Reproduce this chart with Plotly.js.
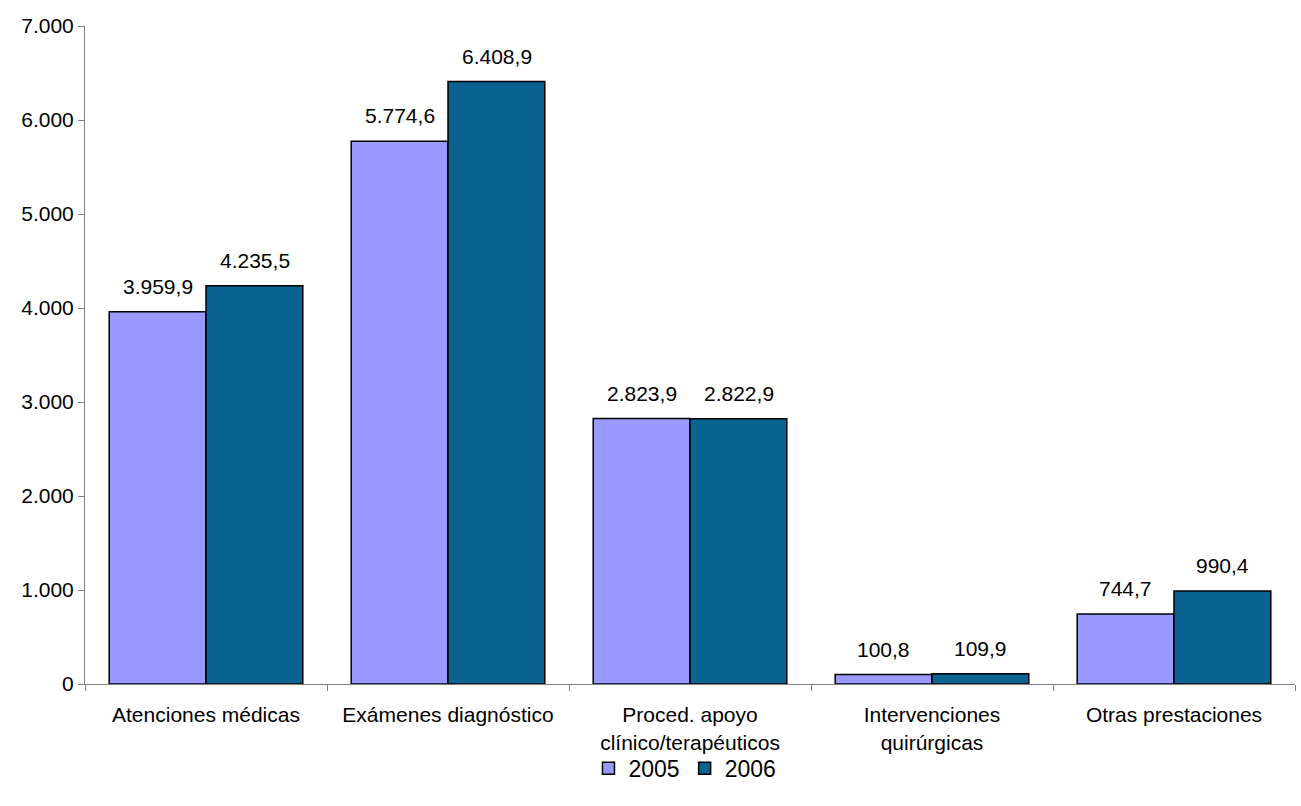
<!DOCTYPE html>
<html>
<head>
<meta charset="utf-8">
<script src="https://cdn.plot.ly/plotly-3.0.1.min.js"></script>
<style>html,body{margin:0;padding:0;background:#fff;overflow:hidden}#chart{width:1301px;height:806px}</style>
</head>
<body>
<div id="chart"></div>
<script>
const categories = ["Atenciones médicas", "Exámenes diagnóstico", "Proced. apoyo<br>clínico/terapéuticos", "Intervenciones<br>quirúrgicas", "Otras prestaciones"];
const values2005 = [3959.9, 5774.6, 2823.9, 100.8, 744.7];
const values2006 = [4235.5, 6408.9, 2822.9, 109.9, 990.4];
const labels2005 = ["3.959,9", "5.774,6", "2.823,9", "100,8", "744,7"];
const labels2006 = ["4.235,5", "6.408,9", "2.822,9", "109,9", "990,4"];
const tickVals = [0, 1000, 2000, 3000, 4000, 5000, 6000, 7000];
const tickText = ["0", "1.000", "2.000", "3.000", "4.000", "5.000", "6.000", "7.000"];
const titleText = "(prestaciones en miles)";

const font = "Liberation Sans, Arial, sans-serif";
const traces = [
  {type: "bar", name: "2005", x: categories, y: values2005,
   marker: {color: "#9999FF", line: {color: "#000", width: 1.5}}},
  {type: "bar", name: "2006", x: categories, y: values2006,
   marker: {color: "#0B6391", line: {color: "#000", width: 1.5}}}
];
const annotations = [];
categories.forEach((c, i) => {
  annotations.push({x: c, y: values2005[i], text: labels2005[i], xref: "x", yref: "y",
    showarrow: false, yanchor: "bottom", xshift: -48.5, yshift: 12, font: {size: 21, color: "#000", family: font}});
  annotations.push({x: c, y: values2006[i], text: labels2006[i], xref: "x", yref: "y",
    showarrow: false, yanchor: "bottom", xshift: 48.5, yshift: 12, font: {size: 21, color: "#000", family: font}});
});
annotations.push({x: 0.473, y: 1.036, xref: "paper", yref: "paper", text: "<b>" + titleText + "</b>",
  showarrow: false, yanchor: "bottom", font: {size: 23, color: "#000", family: font}});

const layout = {
  width: 1301, height: 806,
  margin: {l: 85, r: 6, t: 26, b: 122, autoexpand: false},
  paper_bgcolor: "#fff", plot_bgcolor: "#fff",
  font: {family: font, size: 21, color: "#000"},
  barmode: "group", bargap: 0.2, bargroupgap: 0,
  showlegend: true,
  legend: {orientation: "h", x: 0.5265, xanchor: "center", xref: "container", yref: "container", y: 0.02, yanchor: "bottom",
    bgcolor: "rgba(0,0,0,0)", font: {size: 23, family: font}, itemwidth: 30},
  xaxis: {showline: true, linecolor: "#808080", linewidth: 1, ticks: "outside", ticklen: 6, tickcolor: "#808080",
    tickson: "boundaries", showgrid: false, tickangle: 0, tickfont: {size: 21}, ticklabelstandoff: 12, automargin: false},
  yaxis: {range: [0, 7000], tickvals: tickVals, ticktext: tickText, showline: true, linecolor: "#808080", linewidth: 1,
    ticks: "outside", ticklen: 6, tickcolor: "#808080", showgrid: false, zeroline: false, tickfont: {size: 21}, automargin: false},
  annotations: annotations
};
Plotly.newPlot("chart", traces, layout, {displayModeBar: false, staticPlot: true});
</script>
</body>
</html>
